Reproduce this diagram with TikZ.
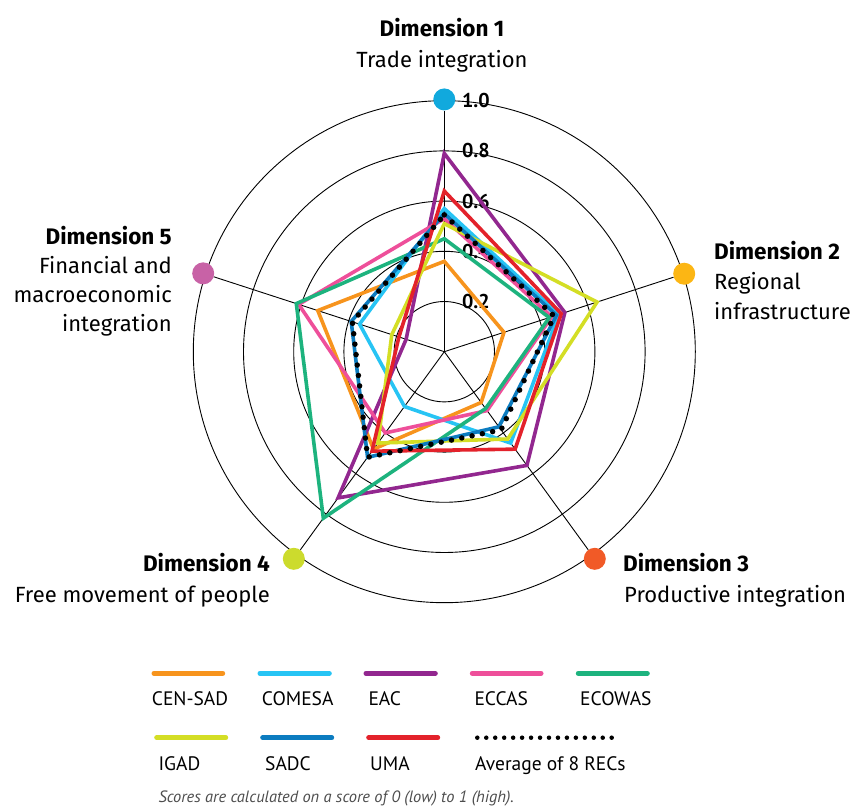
\documentclass[tikz,border=0pt]{standalone}
\usepackage{fontspec}
\setmainfont{Fira Sans}
\newfontfamily\keyfont{PT Sans}
\usepackage{tikz}

\definecolor{censadcol}{HTML}{F7941D}
\definecolor{comesacol}{HTML}{27C4F4}
\definecolor{eaccol}{HTML}{92278F}
\definecolor{eccascol}{HTML}{EE4F9A}
\definecolor{ecowascol}{HTML}{1DB37E}
\definecolor{igadcol}{HTML}{D4DE25}
\definecolor{sadccol}{HTML}{0C7CC0}
\definecolor{umacol}{HTML}{E3222B}
\definecolor{dotone}{HTML}{11A9DD}
\definecolor{dottwo}{HTML}{FCB614}
\definecolor{dotthree}{HTML}{F15A27}
\definecolor{dotfour}{HTML}{CCDB2D}
\definecolor{dotfive}{HTML}{C862A6}
\definecolor{notegray}{HTML}{4D4D4D}

\tikzstyle{ring} = [draw=black, line width=0.9pt]
\tikzstyle{spoke} = [draw=black, line width=0.9pt]
\tikzstyle{dimdot} = [circle, minimum size=22pt, inner sep=0pt]
\tikzstyle{dimhead} = [font=\fontsize{22.5}{26}\selectfont\bfseries, inner sep=0pt]
\tikzstyle{dimtext} = [inner sep=0pt]
\tikzstyle{tick} = [font=\keyfont\fontsize{20}{24}\selectfont\bfseries, anchor=west, inner sep=0pt]
\tikzstyle{rec} = [line width=3.6pt, line join=miter, miter limit=6]
\tikzstyle{avg} = [draw=black, line width=5.5pt, line cap=round, dash pattern=on 0pt off 10.5pt]
\tikzstyle{key} = [line width=5pt, line cap=round]
\tikzstyle{keydots} = [draw=black, line width=4.5pt, line cap=round, dash pattern=on 0pt off 8.96pt]
\tikzstyle{keytext} = [anchor=base west, inner sep=0pt, font=\keyfont\fontsize{19.5}{24}\selectfont]

\newcommand{\recshape}[5]{(90:#1) -- (18:#2) -- (-54:#3) -- (-126:#4) -- (162:#5) -- cycle}

\begin{document}
\begin{tikzpicture}[x=1pt, y=1pt, font=\fontsize{22}{26}\selectfont]
\useasboundingbox (0,0) rectangle (852,806);
\begin{scope}[shift={(444.3,454.3)}, x=251pt, y=251pt]
    \coordinate (o) at (0,0);
    \foreach \r in {0.2,0.4,0.6,0.8,1.0}
        \draw[ring] (o) circle[radius=\r];
    \node[dimdot, fill=dotone] (d1) at (90:1.005) {};
    \node[dimdot, fill=dottwo] (d2) at (18:1.005) {};
    \node[dimdot, fill=dotthree] (d3) at (-54:1.02) {};
    \node[dimdot, fill=dotfour] (d4) at (-126:1.02) {};
    \node[dimdot, fill=dotfive] (d5) at (162:1.01) {};
    \foreach \d in {d1,d2,d3,d4,d5}
        \draw[spoke] (o) -- (\d);
    \foreach \v in {0.2,0.4,0.6,0.8,1.0}
        \node[tick] (t\v) at (0.07,\v) {\v};
    \draw[rec, censadcol] \recshape{0.36}{0.25}{0.25}{0.48}{0.53};
    \draw[rec, comesacol] \recshape{0.57}{0.48}{0.45}{0.27}{0.355};
    \draw[rec, eaccol] \recshape{0.79}{0.505}{0.56}{0.72}{0.16};
    \draw[rec, eccascol] \recshape{0.53}{0.45}{0.29}{0.40}{0.61};
    \draw[rec, ecowascol] \recshape{0.45}{0.44}{0.28}{0.82}{0.62};
    \draw[rec, igadcol] \recshape{0.51}{0.64}{0.43}{0.45}{0.22};
    \draw[rec, sadccol] \recshape{0.55}{0.47}{0.37}{0.52}{0.39};
    \draw[rec, umacol] \recshape{0.64}{0.49}{0.48}{0.49}{0.19};
    \draw[avg] \recshape{0.545}{0.46}{0.385}{0.52}{0.385};
\end{scope}

\node[dimhead, anchor=base] (h1) at (442,769) {Dimension 1};
\node[dimtext, anchor=base] (l1) at (442,738) {Trade integration};
\node[dimhead, anchor=base west] (h2) at (714,546) {Dimension 2};
\node[dimtext, anchor=base west] (l2a) at (714,516) {Regional};
\node[dimtext, anchor=base west] (l2b) at (714,486) {infrastructure};
\node[dimhead, anchor=base west] (h3) at (623,234) {Dimension 3};
\node[dimtext, anchor=base west] (l3) at (624,203) {Productive integration};
\node[dimhead, anchor=base east] (h4) at (270,234) {Dimension 4};
\node[dimtext, anchor=base east] (l4) at (270,203) {Free movement of people};
\node[dimhead, anchor=base east] (h5) at (172,561) {Dimension 5};
\node[dimtext, anchor=base east] (l5a) at (172,532) {Financial and};
\node[dimtext, anchor=base east] (l5b) at (172,503) {macroeconomic};
\node[dimtext, anchor=base east] (l5c) at (172,474) {integration};

\draw[key, censadcol] (154,132.7) -- (222.7,132.7);
\draw[key, comesacol] (260,132.7) -- (329.3,132.7);
\draw[key, eaccol] (366,132.7) -- (435.3,132.7);
\draw[key, eccascol] (472.3,132.7) -- (541,132.7);
\draw[key, ecowascol] (578.3,132.7) -- (647.3,132.7);
\node[keytext] (kcensad) at (151.7,100.3) {CEN-SAD};
\node[keytext] (kcomesa) at (261.7,100.3) {COMESA};
\node[keytext] (keac) at (368.3,100.3) {EAC};
\node[keytext] (keccas) at (474.3,100.3) {ECCAS};
\node[keytext] (kecowas) at (580,100.3) {ECOWAS};

\draw[key, igadcol] (156.7,68.3) -- (225.7,68.3);
\draw[key, sadccol] (262.7,68.3) -- (331.7,68.3);
\draw[key, umacol] (368.7,68.3) -- (437.7,68.3);
\draw[keydots] (477.3,68.3) -- (611.7,68.3);
\node[keytext] (kigad) at (158.3,35.3) {IGAD};
\node[keytext] (ksadc) at (265,35.3) {SADC};
\node[keytext] (kuma) at (370,35.3) {UMA};
\node[keytext] (kavg) at (475,35.3) {Average of 8 RECs};

\node[keytext, font=\keyfont\fontsize{16.4}{19}\selectfont\itshape, text=notegray] (note) at (158.3,3.3)
    {Scores are calculated on a score of 0 (low) to 1 (high).};
\end{tikzpicture}
\end{document}
